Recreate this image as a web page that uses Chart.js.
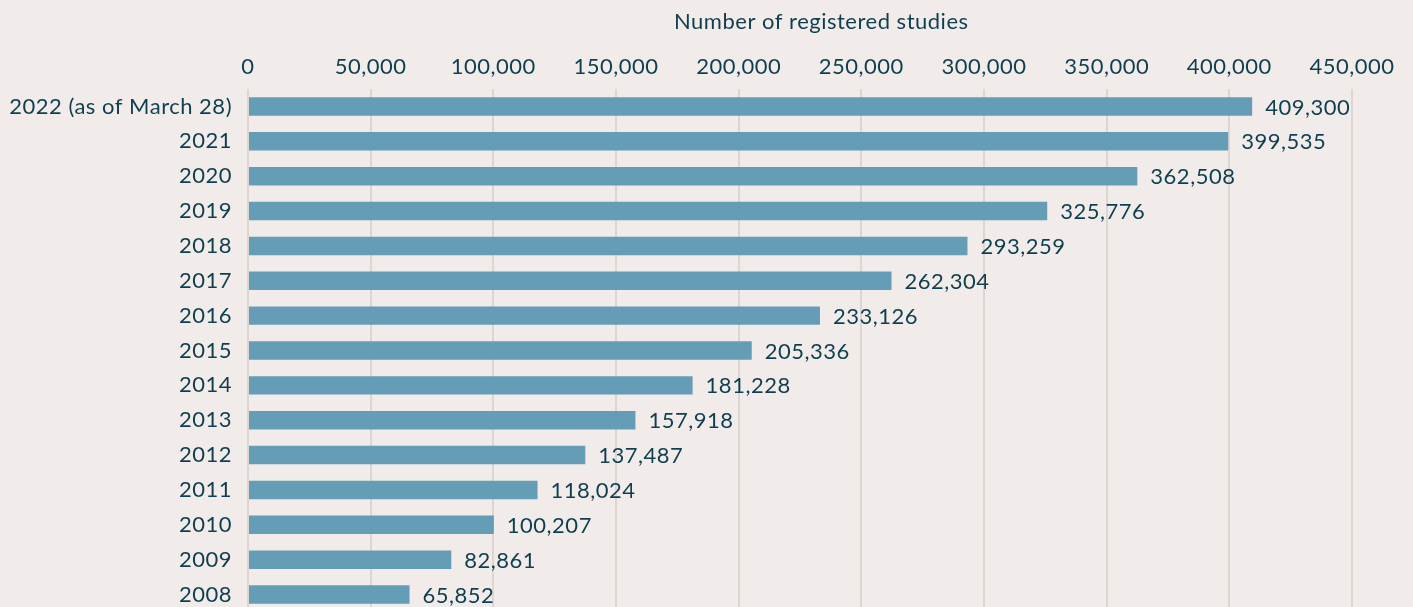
<!DOCTYPE html>
<html>
<head>
<meta charset="utf-8">
<script src="https://cdn.jsdelivr.net/npm/chart.js@4/dist/chart.umd.min.js"></script>
<style>
  html, body { margin: 0; padding: 0; background: #f1ecea; overflow: hidden; width: 1413px; height: 607px; }
  #c { display: block; }
</style>
</head>
<body>
<canvas id="c" width="1413" height="612"></canvas>
<script>
const categories = ["2022 (as of March 28)", "2021", "2020", "2019", "2018", "2017", "2016", "2015", "2014", "2013", "2012", "2011", "2010", "2009", "2008"];
const studies = [409300, 399535, 362508, 325776, 293259, 262304, 233126, 205336, 181228, 157918, 137487, 118024, 100207, 82861, 65852];
const axisTitle = "Number of registered studies";

const textColor = "#0f3f4f";
const fontFamily = "Lato, 'Open Sans', sans-serif";
const fontSize = 22;
const spacing = "0.5px";

const letterSpacingPlugin = {
  id: "letterSpacing",
  beforeDraw(chart) { chart.ctx.letterSpacing = spacing; }
};

// Axis title, centred over the plot area plus the overhang of the last tick label
const axisTitlePlugin = {
  id: "axisTitle",
  afterDraw(chart) {
    const ctx = chart.ctx;
    const xs = chart.scales.x;
    ctx.save();
    ctx.letterSpacing = spacing;
    ctx.font = fontSize + "px " + fontFamily;
    ctx.fillStyle = textColor;
    ctx.textAlign = "center";
    ctx.textBaseline = "middle";
    const lastLabel = xs.max.toLocaleString("en-US");
    const overhang = ctx.measureText(lastLabel).width / 2;
    const cx = (chart.chartArea.left + chart.chartArea.right + overhang) / 2;
    ctx.fillText(axisTitle, cx, 22);
    ctx.restore();
  }
};

const valueLabels = {
  id: "valueLabels",
  afterDatasetsDraw(chart) {
    const ctx = chart.ctx;
    const meta = chart.getDatasetMeta(0);
    ctx.save();
    ctx.letterSpacing = spacing;
    ctx.fillStyle = textColor;
    ctx.font = fontSize + "px " + fontFamily;
    ctx.textAlign = "left";
    ctx.textBaseline = "middle";
    meta.data.forEach((bar, i) => {
      ctx.fillText(studies[i].toLocaleString("en-US"), bar.x + 13, bar.y + 1);
    });
    ctx.restore();
  }
};

new Chart(document.getElementById("c"), {
  type: "bar",
  data: {
    labels: categories,
    datasets: [{
      data: studies,
      backgroundColor: "#669db6",
      borderWidth: 0,
      categoryPercentage: 1.0,
      barPercentage: 0.53
    }]
  },
  options: {
    indexAxis: "y",
    responsive: false,
    animation: false,
    layout: { padding: { left: 0, right: 61, top: 0, bottom: 0 } },
    plugins: { legend: { display: false }, tooltip: { enabled: false } },
    scales: {
      x: {
        position: "top",
        min: 0,
        max: 450000,
        ticks: {
          stepSize: 50000,
          color: textColor,
          font: { family: fontFamily, size: fontSize },
          padding: 9,
          maxRotation: 0,
          callback: v => v.toLocaleString("en-US")
        },
        grid: { color: "#dcd5d0", lineWidth: 2, drawTicks: false },
        border: { display: false },
        title: { display: false },
        afterFit(scale) { scale.height = 89; scale.paddingLeft = 0; scale.paddingRight = 0; }
      },
      y: {
        ticks: {
          color: textColor,
          font: { family: fontFamily, size: fontSize },
          padding: 16
        },
        grid: { display: false, drawTicks: false },
        border: { display: false },
        afterFit(scale) { scale.width = 248; scale.paddingTop = 0; scale.paddingBottom = 0; }
      }
    }
  },
  plugins: [letterSpacingPlugin, axisTitlePlugin, valueLabels]
});
</script>
</body>
</html>
